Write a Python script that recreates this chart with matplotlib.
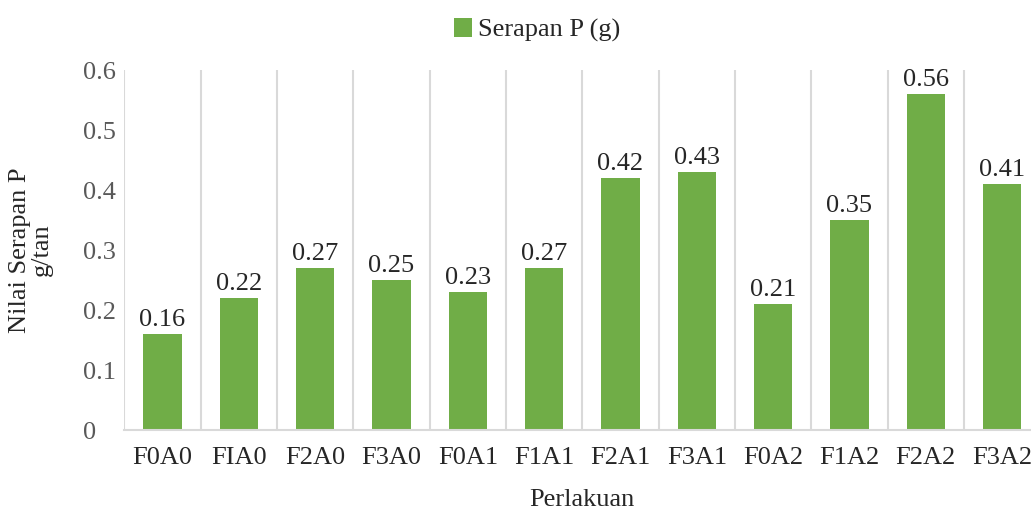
import numpy as np
import matplotlib
matplotlib.use("Agg")
import matplotlib.pyplot as plt

# data
categories = ["F0A0", "FIA0", "F2A0", "F3A0", "F0A1", "F1A1",
              "F2A1", "F3A1", "F0A2", "F1A2", "F2A2", "F3A2"]
serapan_p = [0.16, 0.22, 0.27, 0.25, 0.23, 0.27,
             0.42, 0.43, 0.21, 0.35, 0.56, 0.41]
y_ticks = [0, 0.1, 0.2, 0.3, 0.4, 0.5, 0.6]

plt.rcParams['font.family'] = ['Liberation Serif', 'DejaVu Serif']
FS = 19

W, H = 1031, 514
fig = plt.figure(figsize=(W / 100, H / 100), dpi=100)
# axes runs slightly past the right edge, like the cropped original
ax = fig.add_axes([124.3 / W, (H - 430.3) / H, 916 / W, 360 / H])

x = np.arange(len(categories))
bars = ax.bar(x, serapan_p, width=0.5, color='#70AD47', zorder=3,
              label='Serapan P (g)')

# vertical separators between categories
for b in np.arange(-0.5, len(categories) + 0.5, 1):
    ax.axvline(b, color='#D9D9D9', linewidth=1.5, zorder=1)

ax.set_xlim(-0.5, len(categories) - 0.5)
ax.set_ylim(0, 0.6)
ax.set_yticks(y_ticks)
ax.set_yticklabels([f'{v:g}' for v in y_ticks])
ax.set_xticks(x)
ax.set_xticklabels(categories)

for s in ['top', 'right', 'left']:
    ax.spines[s].set_visible(False)
ax.spines['bottom'].set_color('#D9D9D9')
ax.spines['bottom'].set_linewidth(1.5)
ax.spines['bottom'].set_zorder(4)

ax.tick_params(axis='y', length=0, pad=30, labelsize=FS, labelcolor='#595959')
for t in ax.get_yticklabels():
    t.set_horizontalalignment('left')
ax.tick_params(axis='x', length=0, pad=12, labelsize=FS, labelcolor='#262626')

for rect, v in zip(bars, serapan_p):
    ax.text(rect.get_x() + rect.get_width() / 2, v + 0.005, f'{v:.2f}',
            ha='center', va='bottom', fontsize=FS, color='#262626')

fig.text(31 / W, 1 - 250 / H, 'Nilai Serapan P\ng/tan', rotation=90,
         ha='center', va='center', fontsize=FS, color='#262626',
         linespacing=1.0)
fig.text(582 / W, 1 - 500 / H, 'Perlakuan', ha='center', va='center',
         fontsize=FS, color='#262626')

fig.legend(handles=[bars], labels=['Serapan P (g)'], loc='center',
           bbox_to_anchor=(537 / W, 1 - 30 / H), frameon=False,
           fontsize=FS, handlelength=0.7, handleheight=0.7,
           handletextpad=0.2, labelcolor='#262626')

fig.savefig('out.png', dpi=100)
